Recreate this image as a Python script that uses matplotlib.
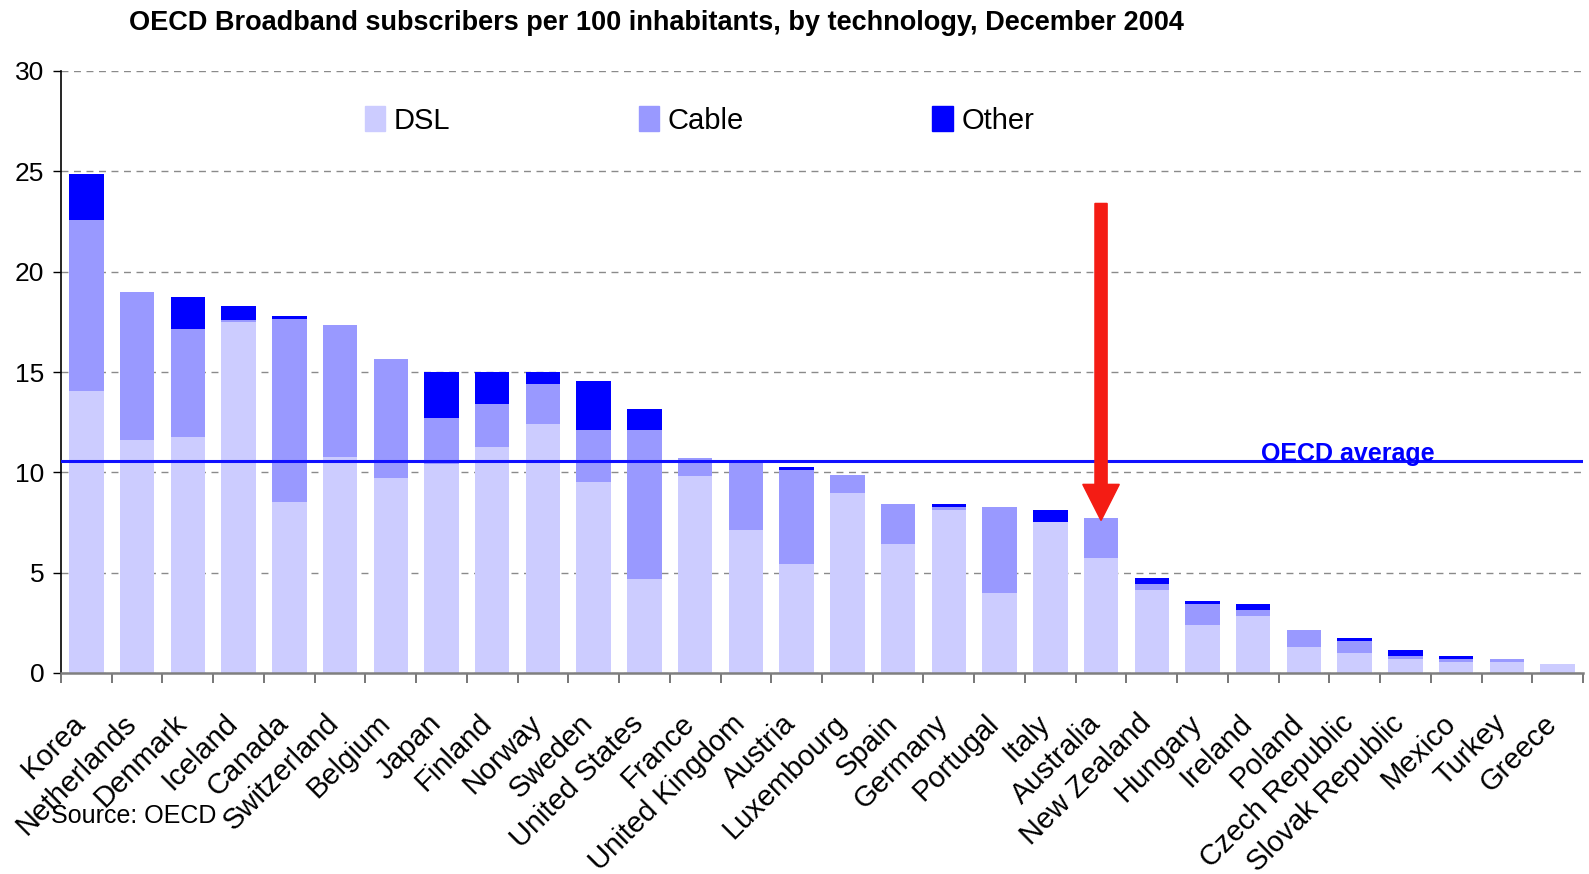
import matplotlib
matplotlib.use("Agg")
import matplotlib.pyplot as plt
from matplotlib.patches import FancyArrow, Patch
import numpy as np

# ---------------- data ----------------
countries = ["Korea", "Netherlands", "Denmark", "Iceland", "Canada", "Switzerland",
             "Belgium", "Japan", "Finland", "Norway", "Sweden", "United States",
             "France", "United Kingdom", "Austria", "Luxembourg", "Spain", "Germany",
             "Portugal", "Italy", "Australia", "New Zealand", "Hungary", "Ireland",
             "Poland", "Czech Republic", "Slovak Republic", "Mexico", "Turkey", "Greece"]
dsl = [14.04, 11.61, 11.76, 17.47, 8.54, 10.77, 9.70, 10.43, 11.27, 12.42, 9.52, 4.67,
       9.82, 7.12, 5.42, 8.97, 6.42, 8.12, 3.97, 7.52, 5.72, 4.12, 2.37, 2.83,
       1.28, 0.98, 0.68, 0.53, 0.53, 0.43]
cable = [8.54, 7.40, 5.40, 0.10, 9.09, 6.55, 5.94, 2.29, 2.15, 2.00, 2.60, 7.45,
         0.90, 3.48, 4.70, 0.90, 2.00, 0.15, 4.30, 0.00, 2.00, 0.30, 1.05, 0.30,
         0.85, 0.60, 0.15, 0.15, 0.15, 0.00]
other = [2.29, 0.00, 1.60, 0.74, 0.14, 0.00, 0.00, 2.30, 1.60, 0.60, 2.45, 1.05,
         0.00, 0.00, 0.15, 0.00, 0.00, 0.15, 0.00, 0.60, 0.00, 0.30, 0.15, 0.30,
         0.00, 0.15, 0.30, 0.15, 0.00, 0.00]
series_names = ["DSL", "Cable", "Other"]
oecd_average = 10.55
highlight = "Australia"
arrow_from = 23.4
arrow_to = 7.6
yticks = [0, 5, 10, 15, 20, 25, 30]
title = "OECD Broadband subscribers per 100 inhabitants, by technology, December 2004"
source = "Source: OECD"

plt.rcParams["font.family"] = ["Liberation Sans", "DejaVu Sans"]

c_dsl, c_cable, c_other = "#CCCCFF", "#9999FF", "#0000FF"

fig = plt.figure(figsize=(15.89, 8.74), dpi=100)
ax = fig.add_axes([61/1589, 201/874, (1583-61)/1589, (803-201)/874])

x = np.arange(len(countries))
dsl_a = np.array(dsl); cab_a = np.array(cable); oth_a = np.array(other)
w = 0.68
ax.bar(x, dsl_a, w, color=c_dsl, label=series_names[0], zorder=2)
ax.bar(x, cab_a, w, bottom=dsl_a, color=c_cable, label=series_names[1], zorder=2)
ax.bar(x, oth_a, w, bottom=dsl_a + cab_a, color=c_other, label=series_names[2], zorder=2)

ax.set_xlim(-0.5, len(countries) - 0.5)
ax.set_ylim(0, 30)
ax.set_yticks(yticks)
ax.set_yticklabels([str(v) for v in yticks], fontsize=19)
ax.yaxis.grid(True, linestyle=(0, (5, 4)), color="#8a8a8a", linewidth=1.0, zorder=0)
ax.set_axisbelow(True)

for s in ["top", "right"]:
    ax.spines[s].set_visible(False)
ax.spines["left"].set_color("black")
ax.spines["left"].set_linewidth(1.2)
ax.spines["bottom"].set_color("#7f7f7f")
ax.spines["bottom"].set_linewidth(1.8)
ax.tick_params(axis="y", direction="out", length=6, width=1, color="black", pad=6)

# category boundary ticks
ax.set_xticks(np.arange(-0.5, len(countries) + 0.5, 1.0))
ax.set_xticklabels([])
ax.tick_params(axis="x", direction="out", length=7, width=1.2, color="#606060")

# category labels
for i, name in enumerate(countries):
    ax.text(i - 0.1, -2.3, name, rotation=45, rotation_mode="anchor",
            ha="right", va="center", fontsize=21, clip_on=False)

# OECD average line
ax.axhline(oecd_average, color="#1010ff", linewidth=2.2, zorder=3)
ax.text(23.15, oecd_average + 0.35, "OECD average", color="#0000ff", fontweight="bold",
        fontsize=18, ha="left", va="center", zorder=4)

# red arrow
hi = countries.index(highlight)
ax.add_patch(FancyArrow(hi, arrow_from, 0, arrow_to - arrow_from, width=0.24,
                        head_width=0.72, head_length=1.8, length_includes_head=True,
                        color="#f41c14", zorder=5))

# legend
handles = [Patch(color=c_dsl), Patch(color=c_cable), Patch(color=c_other)]
ax.legend(handles, series_names, ncol=3, loc="center left",
          bbox_to_anchor=(0.192, 0.918),
          frameon=False, fontsize=21,
          handlelength=0.7, handleheight=0.95, handletextpad=0.3,
          columnspacing=6.45, borderaxespad=0)

fig.text(129/1589, 1 - 23/874, title, fontsize=19.5,
         fontweight="bold", ha="left", va="center")
fig.text(51/1589, 1 - 816/874, source, fontsize=18, ha="left", va="center")

fig.savefig("out.png", dpi=100)
